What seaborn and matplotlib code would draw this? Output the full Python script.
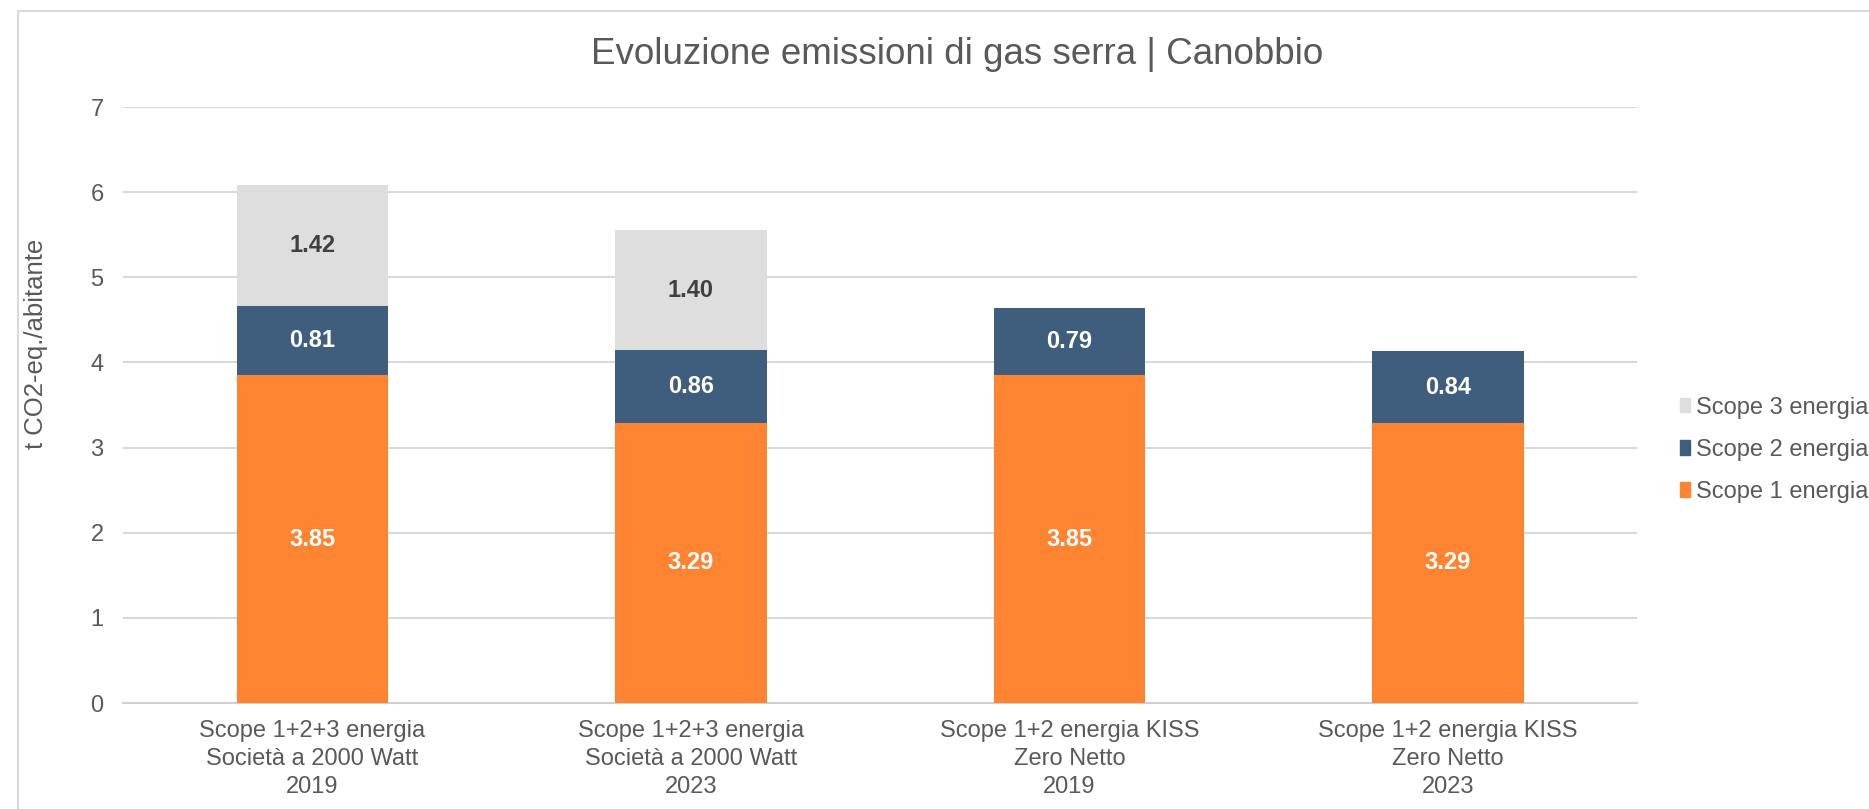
import pandas as pd
import seaborn as sns
import matplotlib.pyplot as plt
from matplotlib.patches import Patch, Rectangle

# dati
categorie = [
    'Scope 1+2+3 energia\nSocietà a 2000 Watt\n2019',
    'Scope 1+2+3 energia\nSocietà a 2000 Watt\n2023',
    'Scope 1+2 energia KISS\nZero Netto\n2019',
    'Scope 1+2 energia KISS\nZero Netto\n2023',
]
scope1 = [3.85, 3.29, 3.85, 3.29]
scope2 = [0.81, 0.86, 0.79, 0.84]
scope3 = [1.42, 1.40, 0.0, 0.0]

col1 = '#FF8431'
col2 = '#3F5E7E'
col3 = '#DEDEDE'
grigio_testo = '#595959'

df = pd.DataFrame({'Categoria': categorie, 'S1': scope1, 'S2': scope2, 'S3': scope3})
df['S12'] = df['S1'] + df['S2']
df['S123'] = df['S12'] + df['S3']

sns.set_theme(style='white')
plt.rcParams['font.family'] = ['Liberation Sans', 'DejaVu Sans']

fig = plt.figure(figsize=(18.69, 8.09), dpi=100)
ax = fig.add_axes([0.0658, 0.131, 0.8102, 0.7367])

# barre impilate: totale sotto, poi parziali sopra
kw = dict(x='Categoria', width=0.4, saturation=1, ax=ax, linewidth=0, edgecolor='none')
sns.barplot(data=df, y='S123', color=col3, zorder=2, **kw)
sns.barplot(data=df, y='S12', color=col2, zorder=3, **kw)
sns.barplot(data=df, y='S1', color=col1, zorder=4, **kw)

for i, row in df.iterrows():
    ax.text(i, row['S1'] / 2, f"{row['S1']:.2f}", ha='center', va='center',
            color='white', fontsize=17, fontweight='bold', zorder=6)
    ax.text(i, row['S1'] + row['S2'] / 2, f"{row['S2']:.2f}", ha='center', va='center',
            color='white', fontsize=17, fontweight='bold', zorder=6)
    if row['S3'] > 0:
        ax.text(i, row['S12'] + row['S3'] / 2, f"{row['S3']:.2f}", ha='center', va='center',
                color='#404040', fontsize=17, fontweight='bold', zorder=6)

ax.set_ylim(0, 7)
ax.set_xlim(-0.5, 3.5)
ax.set_yticks(range(0, 8))
ax.yaxis.grid(True, color='#D9D9D9', linewidth=1.5, zorder=0)
ax.set_axisbelow(True)
for s in ['top', 'right', 'left']:
    ax.spines[s].set_visible(False)
ax.spines['bottom'].set_color('#D0D0D0')
ax.spines['bottom'].set_linewidth(1.5)
ax.tick_params(axis='both', length=0, labelsize=17, colors=grigio_testo)
ax.tick_params(axis='x', pad=12)
ax.tick_params(axis='y', pad=14)
for lab in ax.get_xticklabels():
    lab.set_linespacing(1.35)
ax.set_xlabel('')
ax.set_ylabel('t CO2-eq./abitante', fontsize=18.5, color=grigio_testo)
ax.yaxis.set_label_coords(-0.0495, 0.602)

fig.text(0.512, 0.933, 'Evoluzione emissioni di gas serra | Canobbio', fontsize=26.5,
         color=grigio_testo, ha='center', va='center')

handles = [Patch(color=col3, label='Scope 3 energia'),
           Patch(color=col2, label='Scope 2 energia'),
           Patch(color=col1, label='Scope 1 energia')]
leg = fig.legend(handles=handles, loc='center left', bbox_to_anchor=(0.894, 0.444),
                 frameon=False, fontsize=17, handlelength=0.42, handleheight=0.55,
                 handletextpad=0.25, labelspacing=0.85, borderaxespad=0)
for t in leg.get_texts():
    t.set_color(grigio_testo)

# bordo esterno del grafico
fig.patches.append(Rectangle((0.0096, -0.05), 1.1, 1.036, transform=fig.transFigure,
                             fill=False, edgecolor='#D9D9D9', linewidth=1.5))

fig.savefig('out.png', dpi=100)
